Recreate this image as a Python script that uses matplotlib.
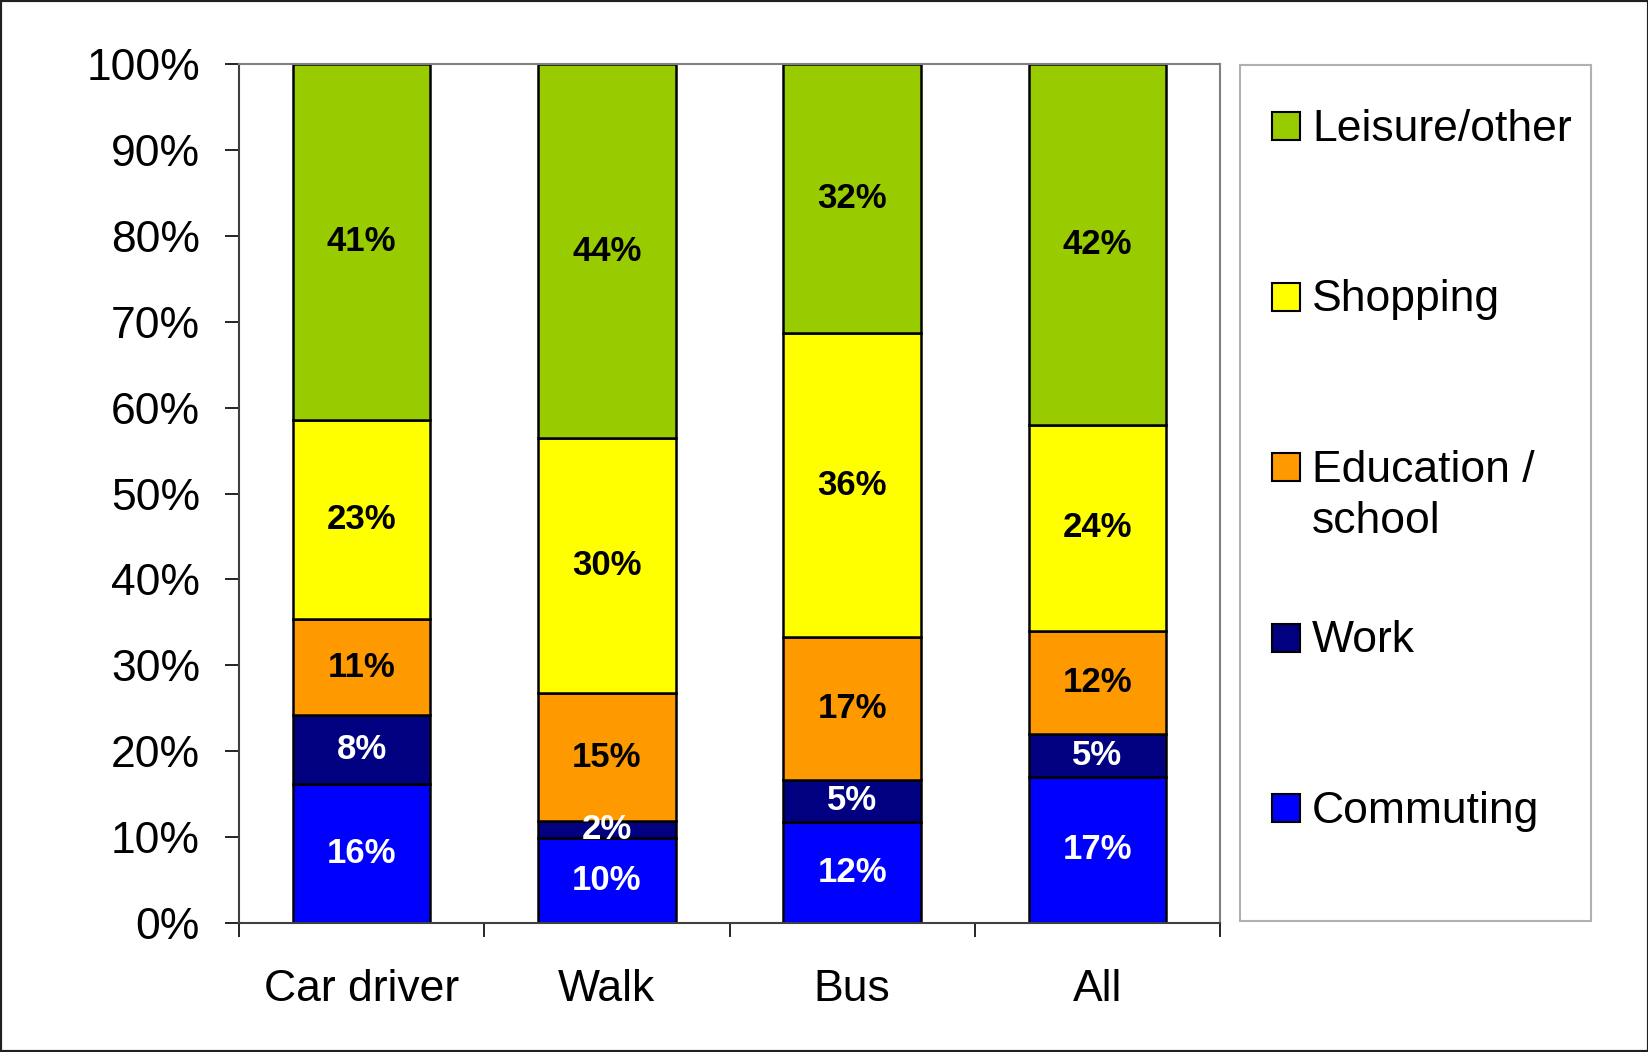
import numpy as np
import matplotlib
matplotlib.use('Agg')
import matplotlib.pyplot as plt
from matplotlib.patches import Rectangle

plt.rcParams['font.family'] = ['Liberation Sans', 'DejaVu Sans']

# Данные
modes = ['Car driver', 'Walk', 'Bus', 'All']
purposes = ['Commuting', 'Work', 'Education /\nschool', 'Shopping', 'Leisure/other']
commuting = [16, 10, 12, 17]
work = [8, 2, 5, 5]
education = [11, 15, 17, 12]
shopping = [23, 30, 36, 24]
leisure = [41, 44, 32, 42]

colors = ['#0000FF', '#000080', '#FF9900', '#FFFF00', '#99CC00']
text_colors = ['white', 'white', 'black', 'black', 'black']

series = np.array([commuting, work, education, shopping, leisure], dtype=float)
totals = series.sum(axis=0)
shares = series / totals * 100  # 100% stacked

fig = plt.figure(figsize=(16.49, 10.52), dpi=100)
ax = fig.add_axes([239 / 1649, 1 - 923 / 1052, (1220 - 239) / 1649, (923 - 64) / 1052])

x = np.arange(len(modes))
bottom = np.zeros(len(modes))
for i in range(len(purposes)):
    ax.bar(x, shares[i], 0.56, bottom=bottom, color=colors[i],
           edgecolor='black', linewidth=1.8, zorder=2)
    for j in range(len(modes)):
        ax.text(x[j], bottom[j] + shares[i][j] / 2, f'{int(series[i][j])}%',
                ha='center', va='center', fontsize=25, fontweight='bold',
                color=text_colors[i], zorder=3)
    bottom += shares[i]

ax.set_xlim(-0.5, len(modes) - 0.5)
ax.set_ylim(0, 100)
ax.set_yticks(np.arange(0, 101, 10))
ax.set_yticklabels([f'{v}%' for v in range(0, 101, 10)], fontsize=32)
ax.tick_params(axis='y', direction='out', length=10, width=1.2, pad=18)

ax.set_xticks(x)
ax.set_xticklabels(modes, fontsize=32)
ax.tick_params(axis='x', which='major', length=0, pad=33)
ax.set_xticks(np.arange(-0.5, len(modes)), minor=True)
ax.tick_params(axis='x', which='minor', direction='out', length=10, width=1.2)

for side in ['top', 'right']:
    ax.spines[side].set_color('#808080')
    ax.spines[side].set_linewidth(1.5)
for side in ['left', 'bottom']:
    ax.spines[side].set_color('#404040')
    ax.spines[side].set_linewidth(1.5)

# Легенда (рисуем вручную, как в Excel)
lx0, lx1 = 1240 / 1649, 1591 / 1649
ly0, ly1 = 1 - 921 / 1052, 1 - 65 / 1052
fig.patches.append(Rectangle((lx0, ly0), lx1 - lx0, ly1 - ly0, transform=fig.transFigure,
                             facecolor='white', edgecolor='#B0B0B0', linewidth=1.5))
sq_w, sq_h = 28 / 1649, 28 / 1052
first_y = 1 - 126 / 1052
step = 170.5 / 1052
for k, i in enumerate(reversed(range(len(purposes)))):
    yc = first_y - k * step
    fig.patches.append(Rectangle((1272 / 1649, yc - sq_h / 2), sq_w, sq_h,
                                 transform=fig.transFigure, facecolor=colors[i],
                                 edgecolor='black', linewidth=1.5))
    fig.text(1312 / 1649, yc + 17 / 1052, purposes[i], fontsize=32, ha='left', va='top',
             linespacing=1.31)

# Рамка вокруг всего рисунка
fig.patches.append(Rectangle((0, 0), 1, 1, transform=fig.transFigure, fill=False,
                             edgecolor='#202020', linewidth=3))

fig.savefig('out.png', dpi=100)
